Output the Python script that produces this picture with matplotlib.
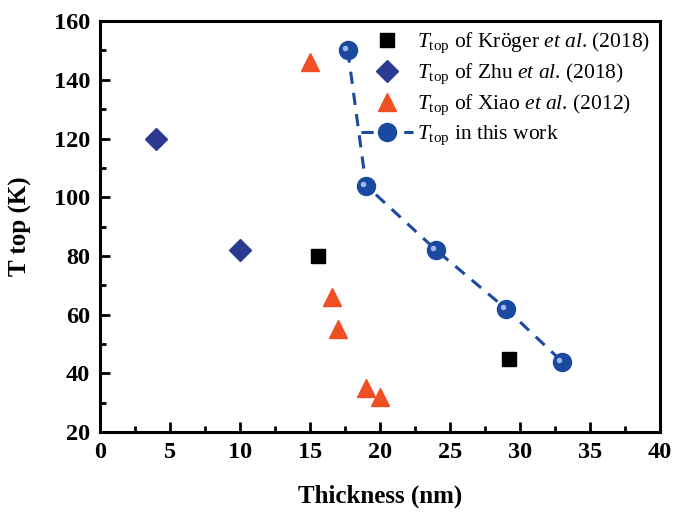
import matplotlib
matplotlib.use("Agg")
import matplotlib.pyplot as plt
from matplotlib.ticker import MultipleLocator
from matplotlib.transforms import offset_copy

plt.rcParams['font.family'] = 'Liberation Serif'
plt.rcParams['mathtext.fontset'] = 'custom'
plt.rcParams['mathtext.rm'] = 'Liberation Serif'
plt.rcParams['mathtext.it'] = 'Liberation Serif:italic'
plt.rcParams['mathtext.bf'] = 'Liberation Serif:bold'

# data
kroger_x = [15.6, 29.2]
kroger_y = [80, 45]
zhu_x = [4, 10]
zhu_y = [120, 82]
xiao_x = [15, 16.6, 17, 19, 20]
xiao_y = [146, 66, 55, 35, 32]
work_x = [17.7, 19, 24, 29, 33]
work_y = [150, 104, 82, 62, 44]

fig = plt.figure(figsize=(6.75, 5.15), dpi=100)
ax = fig.add_axes([0.148, 0.161, 0.83, 0.798])

ax.plot(kroger_x, kroger_y, 's', color='black', ms=10, ls='none',
        label=r'$T_{\mathrm{top}}$ of Kröger $\it{et\ al}$. (2018)')
ax.plot(zhu_x, zhu_y, 'D', color='#2b3990', ms=11, ls='none',
        label=r'$T_{\mathrm{top}}$ of Zhu $\it{et\ al}$. (2018)')
ax.plot(xiao_x, xiao_y, '^', color='#f04e23', ms=13, ls='none',
        label=r'$T_{\mathrm{top}}$ of Xiao $\it{et\ al}$. (2012)')
ax.plot(work_x, work_y, 'o', color='#1a4aa0', ms=13, ls=(0, (4, 3)), lw=2.2,
        mec='#1a4aa0', label=r'$T_{\mathrm{top}}$ in this work')
# highlight on the spheres
hl = offset_copy(ax.transData, fig=fig, x=-3, y=2, units='dots')
ax.plot(work_x, work_y, 'o', color='#9fb6ee', ms=4, mew=0, ls='none',
        transform=hl, zorder=3)

ax.set_xlim(0, 40)
ax.set_ylim(20, 160)
ax.xaxis.set_major_locator(MultipleLocator(5))
ax.xaxis.set_minor_locator(MultipleLocator(2.5))
ax.yaxis.set_major_locator(MultipleLocator(20))
ax.yaxis.set_minor_locator(MultipleLocator(10))
ax.tick_params(which='major', direction='in', length=7, width=2, labelsize=17.5, pad=7)
ax.tick_params(which='minor', direction='in', length=4, width=2)
for lab in ax.get_xticklabels() + ax.get_yticklabels():
    lab.set_fontweight('bold')
for sp in ax.spines.values():
    sp.set_linewidth(2.2)

ax.set_xlabel('Thickness (nm)', fontsize=18, fontweight='bold', labelpad=16)
ax.set_ylabel('T top (K)', fontsize=18, fontweight='bold', labelpad=16)

leg = ax.legend(loc='upper right', fontsize=15.5, frameon=False,
                handlelength=2.4, handletextpad=0.2, labelspacing=0.3,
                borderaxespad=0.05)

fig.savefig('out.png', dpi=100)
